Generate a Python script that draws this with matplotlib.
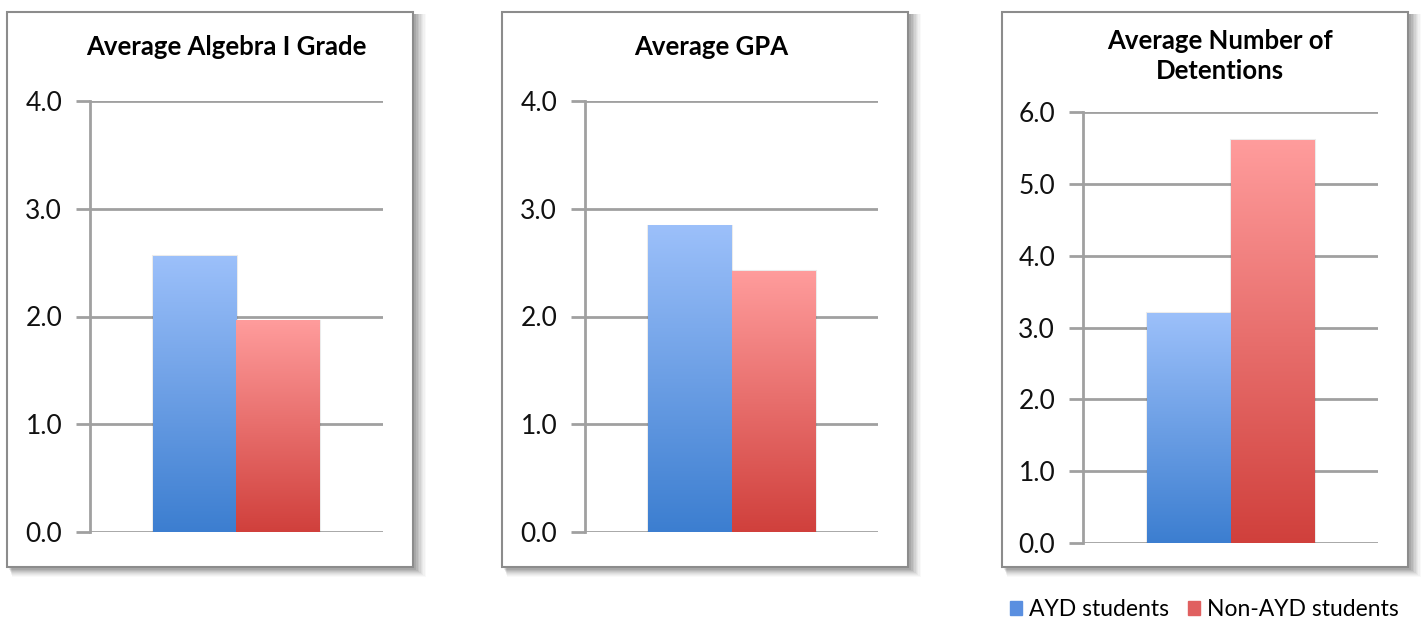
import numpy as np
import matplotlib
matplotlib.use('Agg')
import matplotlib.pyplot as plt
import matplotlib.patches as mpatches
from matplotlib.colors import to_rgb

plt.rcParams['font.family'] = ['Lato', 'DejaVu Sans']

# ── data ────────────────────────────────────────────────
titles = ['Average Algebra I Grade', 'Average GPA', 'Average Number of\nDetentions']
series = ['AYD students', 'Non-AYD students']
ayd = [2.56, 2.84, 3.20]
non_ayd = [1.96, 2.42, 5.61]
yticks = [[0, 1, 2, 3, 4], [0, 1, 2, 3, 4], [0, 1, 2, 3, 4, 5, 6]]

W, H = 1424, 621
BLUE = ('#9CC0FA', '#3C7ED0')   # top, bottom
RED = ('#FF9C9C', '#D0403C')
GRID = '#A0A0A0'

# panel geometry in pixels: box (x0, y0, x1, y1), axes (left, top, bottom, right), title centre
panels = [
    dict(box=(7, 12, 413, 567), ax=(90, 101, 532, 383), tc=(226, 47)),
    dict(box=(502, 12, 908, 567), ax=(585, 101, 532, 878), tc=(711, 47)),
    dict(box=(1002, 12, 1408, 567), ax=(1083, 112, 543, 1378), tc=(1220, 56)),
]

fig = plt.figure(figsize=(W / 100, H / 100), dpi=100)
fig.patch.set_facecolor('white')


def grad_bar(ax, x0, x1, h, cols):
    top, bot = np.array(to_rgb(cols[0])), np.array(to_rgb(cols[1]))
    t = np.linspace(0, 1, 256)[:, None]
    img = (bot * (1 - t) + top * t)[:, None, :]
    ax.imshow(img, extent=[x0, x1, 0, h], origin='lower', aspect='auto', zorder=3,
              interpolation='bilinear')
    ax.add_patch(mpatches.Rectangle((x0, 0), x1 - x0, h, fill=False,
                                    ec=(0, 0, 0, 0.08), lw=1.5, zorder=2))


for i, p in enumerate(panels):
    bx0, by0, bx1, by1 = p['box']
    # soft shadow
    for k, a in zip(range(8, 0, -1), [0.025, 0.03, 0.035, 0.04, 0.05, 0.06, 0.07, 0.08]):
        fig.patches.append(mpatches.Rectangle(
            ((bx0 + 2 + k * 0.4) / W, 1 - (by1 + 2 + k) / H),
            (bx1 - bx0 + k) / W, (by1 - by0 + k) / H,
            transform=fig.transFigure, fc='black', ec='none', alpha=a, zorder=0))
    fig.patches.append(mpatches.Rectangle(
        (bx0 / W, 1 - by1 / H), (bx1 - bx0) / W, (by1 - by0) / H,
        transform=fig.transFigure, fc='white', ec='#8C8C8C', lw=1.5, zorder=1))

    l, t, b, r = p['ax']
    ax = fig.add_axes([l / W, 1 - b / H, (r - l) / W, (b - t) / H], zorder=2)
    ax.patch.set_alpha(0)
    half = (r - l) / 84 / 2
    grad_bar(ax, -1, 0, ayd[i], BLUE)
    grad_bar(ax, 0, 1, non_ayd[i], RED)
    ax.set_xlim(-half, half)
    ax.set_ylim(0, yticks[i][-1])
    ax.set_yticks(yticks[i])
    ax.set_yticklabels([f'{v:.1f}' for v in yticks[i]])
    ax.set_xticks([])
    ax.yaxis.grid(True, color=GRID, lw=2)
    ax.set_axisbelow(True)
    for s in ['top', 'right', 'bottom']:
        ax.spines[s].set_visible(False)
    ax.spines['left'].set_color(GRID)
    ax.spines['left'].set_linewidth(2)
    ax.tick_params(axis='y', length=10, width=2, color=GRID, pad=10,
                   labelsize=19, labelcolor='#111111')
    fig.text(p['tc'][0] / W, 1 - p['tc'][1] / H, titles[i], ha='center', va='center',
             fontsize=18.5, fontweight='bold', color='black', linespacing=1.3)

handles = [mpatches.Patch(color='#5A8FE0', label=series[0]),
           mpatches.Patch(color='#E06060', label=series[1])]
fig.legend(handles=handles, loc='center right', bbox_to_anchor=(1408 / W, 1 - 610 / H),
           ncol=2, frameon=False, fontsize=16.5, handlelength=0.55, handleheight=0.55,
           handletextpad=0.3, columnspacing=0.8, borderaxespad=0)

fig.savefig('out.png', dpi=100, facecolor='white')
